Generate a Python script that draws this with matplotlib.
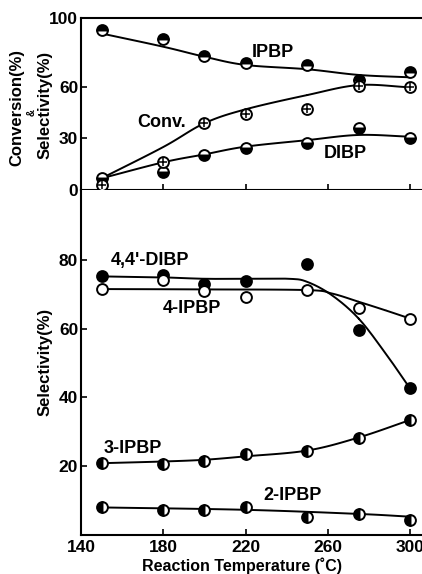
import numpy as np
import matplotlib
matplotlib.use("Agg")
import matplotlib.pyplot as plt

plt.rcParams['font.family'] = ['Liberation Sans', 'DejaVu Sans']
plt.rcParams['font.weight'] = 'bold'

# reaction temperatures (C)
temp = [150, 180, 200, 220, 250, 275, 300]

# upper panel: conversion and selectivity (%)
ipbp = [93, 88, 78, 73.7, 72.7, 64, 68.4]
conv = [3, 16, 38.8, 44.2, 47, 60.6, 59.7]
dibp = [6.8, 10.3, 20.3, 24.6, 27.1, 36.2, 30.4]

# lower panel: selectivity (%)
dibp44 = [75.3, 75.7, 73.2, 73.9, 78.8, 59.8, 42.6]
ipbp4 = [71.6, 74.2, 71.1, 69.3, 71.3, 66.2, 63]
ipbp3 = [20.8, 20.5, 21.5, 23.5, 24.3, 28.2, 33.4]
ipbp2 = [7.9, 7.1, 7.1, 8.1, 5.2, 6.0, 4.2]

# hand-drawn trend curves (knots)
ipbp_cx = [150, 180, 200, 220, 250, 275, 300]
ipbp_cy = [91, 83.3, 77.5, 72.7, 70.2, 66.9, 65.5]
conv_cx = [150, 180, 200, 220, 250, 275, 300]
conv_cy = [6.8, 25, 38.8, 46.9, 55.2, 61, 59.7]
dibp_cx = [150, 180, 200, 220, 250, 275, 300]
dibp_cy = [6.8, 16.1, 20.7, 25.2, 29, 32, 31]
d44_cx = [150, 180, 200, 220, 241, 250, 262, 275, 288, 300]
d44_cy = [75.3, 75.0, 74.6, 74.6, 74.6, 73.7, 69.8, 63, 52.9, 42.6]
i4_cx = [150, 200, 250, 262, 275, 288, 300]
i4_cy = [71.6, 71.5, 71.3, 70.3, 67.9, 65.4, 63]
i3_cx = [150, 180, 200, 220, 250, 275, 300]
i3_cy = [20.8, 21.3, 21.8, 22.8, 24.5, 28.3, 33.4]
i2_cx = [150, 220, 275, 300]
i2_cy = [7.9, 7.2, 6.0, 5.2]


def smooth(xk, yk, n=20):
    # Catmull-Rom through the knots
    x = np.asarray(xk, float)
    y = np.asarray(yk, float)
    px = np.concatenate([[2 * x[0] - x[1]], x, [2 * x[-1] - x[-2]]])
    py = np.concatenate([[2 * y[0] - y[1]], y, [2 * y[-1] - y[-2]]])
    xs, ys = [], []
    t = np.linspace(0, 1, n)
    for i in range(1, len(px) - 2):
        for p, out in ((px, xs), (py, ys)):
            p0, p1, p2, p3 = p[i - 1], p[i], p[i + 1], p[i + 2]
            out.extend(0.5 * ((2 * p1) + (-p0 + p2) * t
                              + (2 * p0 - 5 * p1 + 4 * p2 - p3) * t ** 2
                              + (-p0 + 3 * p1 - 3 * p2 + p3) * t ** 3))
    return xs, ys


fig = plt.figure(figsize=(4.22, 5.74), dpi=100)
L = 81 / 422
W = 1 - L
ax1 = fig.add_axes([L, 1 - 190 / 574, W, 172 / 574])
ax2 = fig.add_axes([L, 1 - 534.5 / 574, W, 344.5 / 574])

ms = 7.8
mk = dict(marker='o', linestyle='none', markersize=ms, markeredgecolor='k',
          markerfacecolor='k', markerfacecoloralt='white', markeredgewidth=1.4, zorder=3)
op = dict(marker='o', linestyle='none', markersize=ms, markerfacecolor='white',
          markeredgecolor='k', markeredgewidth=1.4, zorder=3)

for cx, cy in ((ipbp_cx, ipbp_cy), (conv_cx, conv_cy), (dibp_cx, dibp_cy)):
    sx, sy = smooth(cx, cy)
    ax1.plot(sx, sy, color='k', lw=1.4)
ax1.plot(temp, ipbp, fillstyle='top', **mk)
ax1.plot(temp, dibp, fillstyle='bottom', **mk)
ax1.plot(temp, conv, **op)
ax1.plot(temp, conv, marker='+', linestyle='none', markersize=ms - 1.5,
         markeredgecolor='k', markeredgewidth=1.1, zorder=4)

for cx, cy in ((d44_cx, d44_cy), (i4_cx, i4_cy), (i3_cx, i3_cy), (i2_cx, i2_cy)):
    sx, sy = smooth(cx, cy)
    ax2.plot(sx, sy, color='k', lw=1.4)
ax2.plot(temp, dibp44, **mk)
ax2.plot(temp, ipbp4, **op)
ax2.plot(temp, ipbp3, fillstyle='left', **mk)
ax2.plot(temp, ipbp2, fillstyle='left', **mk)

lf = 13
ax1.text(233.3, 80.2, 'IPBP', ha='center', va='center', fontsize=lf)
ax1.text(179.4, 39, 'Conv.', ha='center', va='center', fontsize=lf)
ax1.text(268.3, 21, 'DIBP', ha='center', va='center', fontsize=lf)
ax2.text(173.5, 80, "4,4'-DIBP", ha='center', va='center', fontsize=lf)
ax2.text(194, 66, '4-IPBP', ha='center', va='center', fontsize=lf)
ax2.text(165.3, 25.2, '3-IPBP', ha='center', va='center', fontsize=lf)
ax2.text(243, 11.5, '2-IPBP', ha='center', va='center', fontsize=lf)

tf = 12.5
for ax in (ax1, ax2):
    ax.set_xlim(140, 305.8)
    ax.spines['right'].set_visible(False)
    for s in ax.spines.values():
        s.set_linewidth(1.5)
    ax.tick_params(direction='in', length=4, width=1.2, labelsize=tf, pad=2)
    ax.set_xticks([140, 180, 220, 260, 300])

ax1.set_ylim(0, 100)
ax1.set_yticks([0, 30, 60, 100])
ax1.tick_params(axis='x', labelbottom=False)
ax2.set_ylim(0, 100.5)
ax2.set_yticks([20, 40, 60, 80])
ax2.spines['top'].set_visible(False)
ax2.tick_params(axis='x', pad=4)

yf = 12
fig.text(17 / 422, 1 - 107 / 574, 'Conversion(%)', rotation=90, ha='center', va='center',
         fontsize=yf)
fig.text(32 / 422, 1 - 112 / 574, '&', rotation=90, ha='center', va='center',
         fontsize=7)
fig.text(45 / 422, 1 - 105 / 574, 'Selectivity(%)', rotation=90, ha='center', va='center',
         fontsize=yf)
fig.text(45 / 422, 1 - 362 / 574, 'Selectivity(%)', rotation=90, ha='center', va='center',
         fontsize=yf)
fig.text(242 / 422, 1 - 566 / 574, 'Reaction Temperature (\u02daC)', ha='center', va='center',
         fontsize=11.5)

fig.savefig('out.png', dpi=100)
